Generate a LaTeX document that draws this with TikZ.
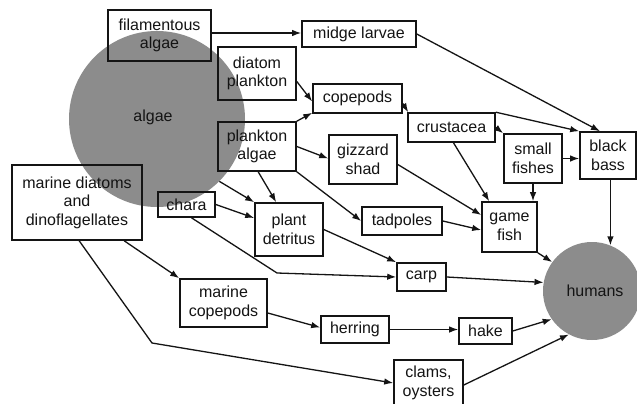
\documentclass[tikz,border=0pt]{standalone}
\usepackage{fontspec}
\setmainfont{Liberation Sans}
\usetikzlibrary{arrows.meta,calc}
\definecolor{blobgray}{RGB}{140,140,140}
\definecolor{inkc}{RGB}{20,20,20}
\tikzset{
  box/.style={draw=inkc, line width=1.6pt, inner sep=0pt, align=center, text=inkc,
    font=\fontsize{16}{18.5}\selectfont},
  blob/.style={circle, fill=blobgray, inner sep=0pt, text=inkc,
    font=\fontsize{16}{18.5}\selectfont},
  lbl/.style={text=inkc, font=\fontsize{16}{18.5}\selectfont},
  arr/.style={draw=inkc, line width=1.3pt, -{Latex[length=9pt,width=6.5pt]}},
}
\begin{document}
\begin{tikzpicture}[x=1pt,y=-1pt]
\useasboundingbox (0,0) rectangle (637,404);
\clip (0,0) rectangle (637,404);
\fill[white] (0,0) rectangle (637,404);
% circles
\node[blob, minimum size=176pt] (algae) at (157,119) {};
\node[lbl] (algaelbl) at (153,117) {algae};
\node[blob, minimum size=98pt] (hu) at (592,291) {};
\node[lbl] (hulbl) at (595,291) {humans};
% boxes
\node[box, minimum width=103pt, minimum height=51pt] (fa) at (159.5,35.5) {filamentous\\algae};
\node[box, minimum width=78pt, minimum height=53pt] (dp) at (257,73.5) {diatom\\plankton};
\node[box, minimum width=78pt, minimum height=49pt] (pa) at (257,146.5) {plankton\\algae};
\node[box, minimum width=114pt, minimum height=26pt] (ml) at (359,34) {midge larvae};
\node[box, minimum width=89pt, minimum height=29pt] (cp) at (357.5,98.5) {copepods};
\node[box, minimum width=87pt, minimum height=29pt] (cr) at (451.5,127.5) {crustacea};
\node[box, minimum width=68pt, minimum height=49pt] (gs) at (363,159.5) {gizzard\\shad};
\node[box, minimum width=58pt, minimum height=49pt] (sf) at (533,158.5) {small\\fishes};
\node[box, minimum width=56pt, minimum height=47pt] (bb) at (608,155.5) {black\\bass};
\node[box, minimum width=130pt, minimum height=75pt] (md) at (77,202.5) {marine diatoms\\and\\dinoflagellates};
\node[box, minimum width=57pt, minimum height=25pt] (ch) at (186.5,204.5) {chara};
\node[box, minimum width=68pt, minimum height=53pt] (pd) at (289,229.5) {plant\\detritus};
\node[box, minimum width=87pt, minimum height=48pt] (mc) at (223.5,303) {marine\\copepods};
\node[box, minimum width=80pt, minimum height=28pt] (tp) at (402,221) {tadpoles};
\node[box, minimum width=55pt, minimum height=50pt] (gf) at (509.5,227) {game\\fish};
\node[box, minimum width=49pt, minimum height=28pt] (ca) at (421.5,277) {carp};
\node[box, minimum width=68pt, minimum height=27pt] (he) at (355,329.5) {herring};
\node[box, minimum width=53pt, minimum height=26pt] (hk) at (485.5,331) {hake};
\node[box, minimum width=69pt, minimum height=46pt] (cl) at (428.5,383) {clams,\\oysters};
% connectors
\draw[arr] (fa.east |- 0,33) -- (ml.west |- 0,33);
\draw[arr] (ml.east) -- ($(bb.north)+(-8,0)$);
\draw[arr] ($(dp.east)+(0,8)$) -- ($(cp.west)+(0,3)$);
\draw[arr] (pa.north east) -- ($(cp.south west)+(0,-1)$);
\draw[arr] (pa.east) -- ($(gs.west)+(0,-1)$);
\draw[arr] (pa.south east) -- (tp.west);
\draw[arr] ($(pa.south west)+(41,0)$) -- ($(pd.north west)+(22,0)$);
\draw[arr] (algae.-45) -- (pd.north west);
\draw[arr] (ch.east) -- ($(pd.west)+(0,-11.5)$);
\draw[arr] ($(ch.south)+(5,0)$) -- (277,273) -- (ca.west);
\draw[arr] (pd.east) -- (ca.north west);
\draw[arr] ($(md.south west)+(113,0)$) -- (mc.north west);
\draw[arr] ($(md.south west)+(68,0)$) -- (152,343) -- (cl.west);
\draw[arr] ($(mc.east)+(0,10)$) -- ($(he.west)+(0,-2)$);
\draw[arr] (he.east) -- (he.east -| hk.west);
\draw[arr] (hk.east) -- (hu.215);
\draw[arr] ($(cl.east)+(0,2)$) -- (hu.242);
\draw[arr] (ca.east) -- (hu.170);
\draw[arr] (gf.south east) -- (hu.144);
\draw[arr] (hu.68 |- bb.south) -- (hu.68);
\draw[arr] ($(cp.east)+(0,5)$) -- ($(cr.north west)+(1,0)$);
\draw[arr] (cr.north east) -- (bb.north west);
\draw[arr] (cr.east) -- (sf.north west);
\draw[arr] ($(cr.south)+(2,0)$) -- ($(gf.north west)+(8,0)$);
\draw[arr] ($(gs.east)+(0,5)$) -- ($(gf.west)+(0,-12)$);
\draw[arr] (sf.east) -- (sf.east -| bb.west);
\draw[arr] (sf.south) -- (sf.south |- gf.north);
\draw[arr] (tp.east) -- ($(gf.west)+(0,3)$);
\end{tikzpicture}
\end{document}
